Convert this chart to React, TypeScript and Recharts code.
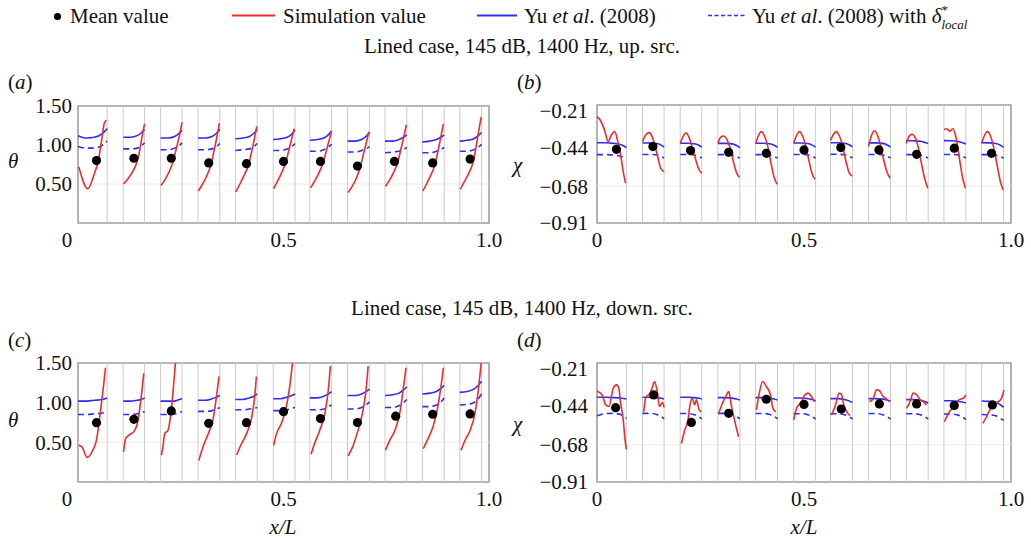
import { ComposedChart, Line, Scatter, XAxis, YAxis, ReferenceLine, ReferenceArea } from 'recharts';

type Pt = [number, number];

const FONT = "'Liberation Serif', 'Times New Roman', serif";
const RED = '#f22a2a';
const BLUE = '#2d2df5';
const INK = '#111';

// x/L axis
const xTicks = [0, 0.5, 1];
const thetaTicks = [0.5, 1.0, 1.5];
const chiTicks = [-0.91, -0.68, -0.44, -0.21];

// grey lines at the edges of each liner segment
const linerEdges = [
  0.071, 0.110, 0.162, 0.201, 0.253, 0.292, 0.345, 0.383, 0.436, 0.475, 0.528,
  0.564, 0.617, 0.656, 0.709, 0.747, 0.800, 0.838, 0.891, 0.929, 0.982,
];

// sample positions of the Yu et al. (2008) model curves, one row per segment
const modelX = [
  [0, 0.020, 0.040, 0.060, 0.071],
  [0.110, 0.128, 0.144, 0.155, 0.162],
  [0.201, 0.219, 0.235, 0.246, 0.253],
  [0.292, 0.310, 0.326, 0.337, 0.345],
  [0.383, 0.401, 0.417, 0.428, 0.436],
  [0.475, 0.493, 0.509, 0.520, 0.528],
  [0.564, 0.582, 0.598, 0.609, 0.617],
  [0.656, 0.674, 0.690, 0.701, 0.709],
  [0.747, 0.765, 0.781, 0.792, 0.800],
  [0.838, 0.856, 0.872, 0.883, 0.891],
  [0.929, 0.947, 0.963, 0.974, 0.982],
];

// ---- (a) theta, up. src.
const simA: Pt[][] = [
  [[0.002, 0.72], [0.024, 0.44], [0.039, 0.62], [0.049, 0.79], [0.054, 0.94], [0.059, 1.11], [0.063, 1.26], [0.069, 1.32]],
  [[0.111, 0.50], [0.122, 0.57], [0.132, 0.65], [0.142, 0.76], [0.149, 0.90], [0.155, 1.08], [0.162, 1.27]],
  [[0.202, 0.48], [0.212, 0.56], [0.222, 0.66], [0.232, 0.80], [0.239, 0.95], [0.246, 1.10], [0.253, 1.29]],
  [[0.293, 0.41], [0.303, 0.50], [0.313, 0.60], [0.323, 0.74], [0.330, 0.90], [0.337, 1.08], [0.344, 1.28]],
  [[0.384, 0.40], [0.394, 0.50], [0.404, 0.61], [0.414, 0.73], [0.421, 0.88], [0.428, 1.05], [0.435, 1.24]],
  [[0.476, 0.44], [0.485, 0.53], [0.495, 0.64], [0.505, 0.77], [0.512, 0.91], [0.519, 1.06], [0.526, 1.21]],
  [[0.566, 0.45], [0.576, 0.54], [0.586, 0.64], [0.596, 0.77], [0.603, 0.90], [0.610, 1.04], [0.617, 1.18]],
  [[0.657, 0.39], [0.667, 0.47], [0.677, 0.57], [0.687, 0.72], [0.694, 0.87], [0.701, 1.02], [0.708, 1.17]],
  [[0.748, 0.47], [0.758, 0.55], [0.768, 0.65], [0.778, 0.78], [0.785, 0.93], [0.792, 1.09], [0.799, 1.26]],
  [[0.839, 0.41], [0.848, 0.50], [0.858, 0.61], [0.868, 0.74], [0.875, 0.90], [0.882, 1.08], [0.889, 1.27]],
  [[0.930, 0.43], [0.939, 0.52], [0.949, 0.62], [0.959, 0.74], [0.966, 0.90], [0.973, 1.12], [0.981, 1.36]],
];
const yuA = [
  [1.12, 1.09, 1.10, 1.15, 1.21], [1.10, 1.10, 1.12, 1.16, 1.20], [1.09, 1.09, 1.11, 1.15, 1.19],
  [1.09, 1.09, 1.11, 1.15, 1.20], [1.08, 1.09, 1.11, 1.15, 1.20], [1.07, 1.08, 1.10, 1.14, 1.19],
  [1.06, 1.07, 1.09, 1.13, 1.18], [1.05, 1.05, 1.07, 1.11, 1.16], [1.05, 1.05, 1.07, 1.10, 1.13],
  [1.04, 1.05, 1.07, 1.10, 1.13], [1.05, 1.06, 1.08, 1.12, 1.16],
];
const yuLocalA = [
  [0.98, 0.96, 0.96, 1.00, 1.05], [0.95, 0.95, 0.96, 0.99, 1.03], [0.94, 0.94, 0.96, 0.99, 1.03],
  [0.94, 0.94, 0.95, 0.98, 1.02], [0.93, 0.94, 0.95, 0.98, 1.02], [0.93, 0.93, 0.95, 0.98, 1.02],
  [0.92, 0.92, 0.94, 0.97, 1.01], [0.91, 0.91, 0.93, 0.95, 0.98], [0.90, 0.91, 0.92, 0.94, 0.97],
  [0.90, 0.90, 0.92, 0.94, 0.97], [0.92, 0.92, 0.94, 0.97, 1.01],
];
const meanXA = [0.045, 0.136, 0.227, 0.318, 0.410, 0.500, 0.590, 0.680, 0.770, 0.863, 0.954];
const meanA = [0.80, 0.83, 0.83, 0.77, 0.76, 0.79, 0.79, 0.73, 0.79, 0.77, 0.82];

// ---- (b) chi, up. src.
const simB: Pt[][] = [
  [[0, -0.248], [0.008, -0.27], [0.018, -0.33], [0.027, -0.403], [0.035, -0.36], [0.043, -0.341], [0.050, -0.40], [0.059, -0.517], [0.064, -0.60], [0.069, -0.662]],
  [[0.110, -0.403], [0.118, -0.36], [0.126, -0.347], [0.133, -0.37], [0.140, -0.43], [0.147, -0.50], [0.154, -0.57], [0.162, -0.59]],
  [[0.201, -0.414], [0.208, -0.370], [0.215, -0.348], [0.222, -0.375], [0.230, -0.438], [0.238, -0.512], [0.246, -0.575], [0.253, -0.600]],
  [[0.292, -0.414], [0.299, -0.375], [0.306, -0.368], [0.313, -0.386], [0.321, -0.438], [0.329, -0.522], [0.337, -0.596], [0.344, -0.625]],
  [[0.383, -0.417], [0.390, -0.365], [0.397, -0.341], [0.404, -0.365], [0.412, -0.428], [0.420, -0.533], [0.428, -0.627], [0.435, -0.668]],
  [[0.475, -0.414], [0.482, -0.365], [0.489, -0.341], [0.496, -0.365], [0.504, -0.428], [0.512, -0.522], [0.520, -0.606], [0.527, -0.638]],
  [[0.564, -0.396], [0.571, -0.359], [0.578, -0.341], [0.585, -0.365], [0.593, -0.428], [0.601, -0.522], [0.609, -0.596], [0.616, -0.617]],
  [[0.656, -0.434], [0.663, -0.365], [0.670, -0.335], [0.677, -0.359], [0.685, -0.428], [0.693, -0.522], [0.701, -0.596], [0.708, -0.631]],
  [[0.747, -0.414], [0.754, -0.370], [0.761, -0.357], [0.768, -0.375], [0.776, -0.438], [0.784, -0.543], [0.792, -0.638], [0.799, -0.693]],
  [[0.838, -0.327], [0.845, -0.323], [0.852, -0.338], [0.859, -0.323], [0.867, -0.375], [0.875, -0.501], [0.883, -0.627], [0.890, -0.693]],
  [[0.929, -0.414], [0.936, -0.365], [0.943, -0.341], [0.950, -0.365], [0.958, -0.438], [0.966, -0.543], [0.974, -0.648], [0.981, -0.704]],
];
const yuB = [
  [-0.410, -0.410, -0.414, -0.424, -0.440], [-0.412, -0.412, -0.415, -0.425, -0.438], [-0.413, -0.413, -0.416, -0.426, -0.438],
  [-0.414, -0.414, -0.417, -0.427, -0.440], [-0.413, -0.413, -0.416, -0.426, -0.438], [-0.412, -0.412, -0.415, -0.425, -0.437],
  [-0.410, -0.410, -0.413, -0.423, -0.436], [-0.411, -0.411, -0.414, -0.424, -0.437], [-0.397, -0.398, -0.401, -0.408, -0.414],
  [-0.397, -0.398, -0.402, -0.410, -0.418], [-0.410, -0.411, -0.415, -0.425, -0.438],
];
const yuLocalB = [
  [-0.484, -0.484, -0.487, -0.496, -0.506], [-0.483, -0.483, -0.486, -0.495, -0.505], [-0.483, -0.483, -0.486, -0.495, -0.505],
  [-0.484, -0.484, -0.487, -0.496, -0.506], [-0.484, -0.484, -0.487, -0.496, -0.505], [-0.483, -0.483, -0.486, -0.495, -0.505],
  [-0.482, -0.482, -0.485, -0.494, -0.504], [-0.483, -0.483, -0.486, -0.495, -0.505], [-0.484, -0.484, -0.487, -0.496, -0.506],
  [-0.483, -0.483, -0.486, -0.495, -0.505], [-0.484, -0.484, -0.487, -0.496, -0.506],
];
const meanXB = [0.047, 0.135, 0.226, 0.318, 0.409, 0.500, 0.589, 0.681, 0.772, 0.863, 0.953];
const meanB = [-0.451, -0.434, -0.459, -0.470, -0.476, -0.455, -0.440, -0.455, -0.482, -0.444, -0.476];

// ---- (c) theta, down. src.
const simC: Pt[][] = [
  [[0.002, 0.465], [0.010, 0.44], [0.022, 0.31], [0.036, 0.40], [0.045, 0.53], [0.050, 0.70], [0.055, 0.91], [0.061, 1.16], [0.067, 1.44]],
  [[0.111, 0.38], [0.116, 0.55], [0.124, 0.59], [0.138, 0.65], [0.146, 0.78], [0.154, 1.08], [0.160, 1.37]],
  [[0.203, 0.34], [0.207, 0.46], [0.211, 0.61], [0.219, 0.65], [0.225, 0.82], [0.231, 1.12], [0.237, 1.50]],
  [[0.294, 0.27], [0.304, 0.44], [0.317, 0.61], [0.329, 0.80], [0.337, 1.08], [0.343, 1.33]],
  [[0.386, 0.34], [0.394, 0.44], [0.410, 0.61], [0.422, 0.80], [0.430, 1.08], [0.434, 1.33]],
  [[0.476, 0.46], [0.483, 0.61], [0.495, 0.74], [0.507, 0.95], [0.515, 1.20], [0.522, 1.50]],
  [[0.567, 0.35], [0.576, 0.49], [0.588, 0.65], [0.601, 0.87], [0.609, 1.16], [0.614, 1.46]],
  [[0.657, 0.33], [0.668, 0.44], [0.679, 0.61], [0.690, 0.82], [0.700, 1.12], [0.706, 1.46]],
  [[0.748, 0.40], [0.759, 0.53], [0.771, 0.65], [0.783, 0.87], [0.791, 1.16], [0.798, 1.44]],
  [[0.840, 0.42], [0.852, 0.55], [0.864, 0.70], [0.874, 0.91], [0.882, 1.16], [0.889, 1.44]],
  [[0.932, 0.40], [0.942, 0.53], [0.954, 0.65], [0.966, 0.87], [0.974, 1.16], [0.981, 1.50]],
];
const yuC = [
  [1.02, 1.02, 1.03, 1.04, 1.06], [1.02, 1.02, 1.03, 1.04, 1.06], [1.02, 1.02, 1.02, 1.04, 1.05],
  [1.03, 1.03, 1.05, 1.07, 1.09], [1.04, 1.04, 1.06, 1.08, 1.11], [1.05, 1.05, 1.07, 1.09, 1.11],
  [1.06, 1.06, 1.08, 1.11, 1.14], [1.09, 1.09, 1.11, 1.14, 1.17], [1.09, 1.10, 1.12, 1.16, 1.20],
  [1.11, 1.12, 1.14, 1.18, 1.22], [1.13, 1.14, 1.17, 1.22, 1.27],
];
const yuLocalC = [
  [0.85, 0.85, 0.86, 0.87, 0.89], [0.85, 0.85, 0.86, 0.87, 0.89], [0.85, 0.85, 0.86, 0.87, 0.89],
  [0.89, 0.89, 0.90, 0.92, 0.94], [0.91, 0.91, 0.92, 0.93, 0.94], [0.90, 0.90, 0.91, 0.93, 0.94],
  [0.91, 0.91, 0.92, 0.95, 0.97], [0.92, 0.92, 0.94, 0.97, 1.01], [0.94, 0.94, 0.96, 1.00, 1.04],
  [0.95, 0.95, 0.97, 1.01, 1.06], [0.97, 0.98, 1.00, 1.05, 1.11],
];
const meanXC = [0.045, 0.136, 0.227, 0.318, 0.410, 0.500, 0.590, 0.680, 0.773, 0.863, 0.954];
const meanC = [0.748, 0.79, 0.896, 0.74, 0.748, 0.887, 0.80, 0.75, 0.83, 0.854, 0.858];

// ---- (d) chi, down. src.
const simD: Pt[][] = [
  [[0, -0.348], [0.013, -0.375], [0.021, -0.434], [0.029, -0.443], [0.039, -0.333], [0.047, -0.310], [0.053, -0.333], [0.056, -0.403], [0.063, -0.517], [0.068, -0.653], [0.071, -0.709]],
  [[0.113, -0.476], [0.118, -0.386], [0.127, -0.365], [0.134, -0.323], [0.139, -0.289], [0.145, -0.344], [0.151, -0.444], [0.158, -0.417], [0.162, -0.449]],
  [[0.204, -0.672], [0.212, -0.589], [0.220, -0.527], [0.224, -0.444], [0.230, -0.393], [0.236, -0.434], [0.240, -0.403], [0.247, -0.465], [0.252, -0.476]],
  [[0.294, -0.486], [0.303, -0.424], [0.313, -0.372], [0.318, -0.352], [0.325, -0.444], [0.333, -0.538], [0.342, -0.631]],
  [[0.385, -0.465], [0.392, -0.361], [0.400, -0.289], [0.409, -0.320], [0.419, -0.372], [0.425, -0.455], [0.432, -0.476]],
  [[0.475, -0.527], [0.482, -0.455], [0.494, -0.414], [0.502, -0.372], [0.510, -0.361], [0.518, -0.382], [0.525, -0.414]],
  [[0.566, -0.497], [0.575, -0.444], [0.585, -0.361], [0.591, -0.372], [0.596, -0.434], [0.603, -0.476], [0.611, -0.501]],
  [[0.658, -0.414], [0.667, -0.396], [0.675, -0.341], [0.683, -0.349], [0.691, -0.382], [0.699, -0.396], [0.706, -0.414]],
  [[0.748, -0.455], [0.756, -0.414], [0.764, -0.361], [0.772, -0.370], [0.780, -0.401], [0.788, -0.414], [0.796, -0.434]],
  [[0.839, -0.538], [0.849, -0.486], [0.861, -0.444], [0.869, -0.414], [0.877, -0.399], [0.885, -0.393], [0.891, -0.372]],
  [[0.932, -0.548], [0.941, -0.507], [0.951, -0.455], [0.961, -0.424], [0.969, -0.414], [0.977, -0.393], [0.983, -0.341]],
];
const yuD = [
  [-0.387, -0.387, -0.389, -0.393, -0.397], [-0.387, -0.387, -0.389, -0.393, -0.397], [-0.387, -0.387, -0.389, -0.393, -0.397],
  [-0.389, -0.389, -0.392, -0.397, -0.403], [-0.389, -0.389, -0.392, -0.397, -0.403], [-0.391, -0.391, -0.395, -0.401, -0.410],
  [-0.395, -0.395, -0.400, -0.409, -0.420], [-0.395, -0.395, -0.398, -0.403, -0.410], [-0.401, -0.401, -0.405, -0.413, -0.422],
  [-0.408, -0.408, -0.411, -0.416, -0.422], [-0.410, -0.412, -0.418, -0.433, -0.449],
];
const yuLocalD = [
  [-0.501, -0.488, -0.486, -0.496, -0.517], [-0.486, -0.486, -0.493, -0.505, -0.520], [-0.487, -0.487, -0.494, -0.506, -0.521],
  [-0.486, -0.486, -0.493, -0.505, -0.520], [-0.487, -0.487, -0.493, -0.505, -0.520], [-0.488, -0.488, -0.494, -0.506, -0.521],
  [-0.488, -0.488, -0.495, -0.507, -0.522], [-0.487, -0.487, -0.494, -0.506, -0.521], [-0.488, -0.488, -0.495, -0.507, -0.522],
  [-0.490, -0.490, -0.497, -0.509, -0.524], [-0.493, -0.495, -0.501, -0.516, -0.530],
];
const meanXD = [0.045, 0.137, 0.228, 0.318, 0.409, 0.500, 0.590, 0.682, 0.772, 0.863, 0.955];
const meanD = [-0.451, -0.372, -0.542, -0.486, -0.399, -0.431, -0.459, -0.428, -0.428, -0.438, -0.434];

// segments -> one series with null breaks between segments
function toLine(segs: Pt[][]) {
  const out: { x: number; y: number | null }[] = [];
  segs.forEach((seg, i) => {
    if (i > 0) out.push({ x: seg[0][0], y: null });
    seg.forEach(([x, y]) => out.push({ x, y }));
  });
  return out;
}

function withModelX(ys: number[][]): Pt[][] {
  return modelX.map((xs, k) => xs.map((x, j) => [x, ys[k][j]] as Pt));
}

const fmtTheta = (v: number) => v.toFixed(2);
const fmtChi = (v: number) => '\u2212' + Math.abs(v).toFixed(2);

function XTick(props: any) {
  const { x, y, payload, shift } = props;
  const v = payload.value;
  const label = v === 0 ? '0' : v.toFixed(1);
  return (
    <text x={x + (v === 0 ? shift : 0)} y={y} dy="0.71em" textAnchor="middle" fontFamily={FONT} fontSize={21} fill={INK}>
      {label}
    </text>
  );
}

function YTick(props: any) {
  const { x, y, payload, fmt } = props;
  return (
    <text x={x} y={y} dy="0.355em" textAnchor="end" fontFamily={FONT} fontSize={21} fill={INK}>
      {fmt(payload.value)}
    </text>
  );
}

interface PanelProps {
  left: number;
  top: number;
  width: number;
  marginTop: number;
  marginRight: number;
  plotH: number;
  yWidth: number;
  xHeight: number;
  domain: [number, number];
  yTicks: number[];
  fmt: (v: number) => string;
  yGap: number;
  zeroShift: number;
  grid: number;
  sim: Pt[][];
  yu: number[][];
  yuLocal: number[][];
  meanX: number[];
  mean: number[];
}

function Panel(p: PanelProps) {
  const height = p.marginTop + p.plotH + p.xHeight;
  const means = p.meanX.map((x, i) => ({ x, y: p.mean[i] }));
  return (
    <div style={{ position: 'absolute', left: p.left, top: p.top }}>
      <ComposedChart width={p.width} height={height} margin={{ top: p.marginTop, right: p.marginRight, bottom: 0, left: 0 }}>
        <XAxis
          type="number"
          dataKey="x"
          domain={[0, 1]}
          ticks={xTicks}
          interval={0}
          axisLine={false}
          tickLine={false}
          tickSize={0}
          tickMargin={9}
          height={p.xHeight}
          tick={(t: any) => <XTick {...t} shift={p.zeroShift} />}
        />
        <YAxis
          type="number"
          domain={p.domain}
          allowDataOverflow
          ticks={p.yTicks}
          interval={0}
          axisLine={false}
          tickLine={false}
          tickSize={0}
          tickMargin={p.yGap}
          width={p.yWidth}
          tick={(t: any) => <YTick {...t} fmt={p.fmt} />}
        />
        <ReferenceLine y={p.grid} stroke="#ececec" strokeWidth={1} />
        {linerEdges.map((x) => (
          <ReferenceLine key={x} x={x} stroke="#cccccc" strokeWidth={1} />
        ))}
        <ReferenceArea x1={0} x2={1} y1={p.domain[0]} y2={p.domain[1]} fill="none" fillOpacity={0} stroke="#a0a0a0" strokeWidth={1.6} />
        <Line data={toLine(withModelX(p.yu))} dataKey="y" type="monotone" stroke={BLUE} strokeWidth={1.6} dot={false} isAnimationActive={false} />
        <Line
          data={toLine(withModelX(p.yuLocal))}
          dataKey="y"
          type="monotone"
          stroke={BLUE}
          strokeWidth={1.6}
          strokeDasharray="6 4"
          dot={false}
          isAnimationActive={false}
        />
        <Line data={toLine(p.sim)} dataKey="y" type="monotone" stroke={RED} strokeWidth={1.6} dot={false} isAnimationActive={false} />
        <Scatter
          data={means}
          dataKey="y"
          isAnimationActive={false}
          shape={(s: any) => <circle cx={s.cx} cy={s.cy} r={4.6} fill="#000" />}
        />
      </ComposedChart>
    </div>
  );
}

function Overlay() {
  const it = { fontStyle: 'italic' as const };
  return (
    <svg width={1031} height={542} style={{ position: 'absolute', left: 0, top: 0 }} fontFamily={FONT} fontSize={21} fill={INK}>
      {/* legend */}
      <circle cx={57.5} cy={16.5} r={3.6} fill="#000" />
      <text x={70} y={23}>Mean value</text>
      <line x1={232} x2={275} y1={15.5} y2={15.5} stroke={RED} strokeWidth={2} />
      <text x={283} y={23}>Simulation value</text>
      <line x1={477} x2={517} y1={15.5} y2={15.5} stroke={BLUE} strokeWidth={2} />
      <text x={524} y={23}>
        Yu <tspan style={it}>et al</tspan>. (2008)
      </text>
      <line x1={708} x2={747} y1={15.5} y2={15.5} stroke={BLUE} strokeWidth={1.6} strokeDasharray="4 2.5" />
      <text x={752} y={23}>
        Yu <tspan style={it}>et al</tspan>. (2008) with <tspan style={it}>δ</tspan>
        <tspan fontSize={13} dy={-9}>*</tspan>
        <tspan fontSize={13} style={it} dx={-6.5} dy={14.5}>local</tspan>
      </text>

      {/* row titles */}
      <text x={522} y={53} textAnchor="middle">Lined case, 145 dB, 1400 Hz, up. src.</text>
      <text x={522} y={315} textAnchor="middle">Lined case, 145 dB, 1400 Hz, down. src.</text>

      {/* panel labels */}
      <text x={8} y={89}>(<tspan style={it}>a</tspan>)</text>
      <text x={517} y={89}>(<tspan style={it}>b</tspan>)</text>
      <text x={8} y={347}>(<tspan style={it}>c</tspan>)</text>
      <text x={517} y={347}>(<tspan style={it}>d</tspan>)</text>

      {/* axis titles */}
      <text x={8} y={168} style={it}>θ</text>
      <text x={8} y={427} style={it}>θ</text>
      <text x={513} y={172} style={it}>χ</text>
      <text x={513} y={431} style={it}>χ</text>
      <text x={283} y={534} textAnchor="middle" style={it}>x/L</text>
      <text x={804} y={534} textAnchor="middle" style={it}>x/L</text>
    </svg>
  );
}

export default function App() {
  return (
    <div style={{ position: 'absolute', left: 0, top: 0, width: 1031, height: 542, background: '#fff', overflow: 'hidden' }}>
      <Overlay />
      <Panel
        left={0} top={86} width={515} marginTop={20} marginRight={26} plotH={117} yWidth={78} xHeight={43}
        domain={[0, 1.5]} yTicks={thetaTicks} fmt={fmtTheta} yGap={6} zeroShift={-11} grid={0.5}
        sim={simA} yu={yuA} yuLocal={yuLocalA} meanX={meanXA} mean={meanA}
      />
      <Panel
        left={520} top={86} width={511} marginTop={19} marginRight={20} plotH={118} yWidth={77} xHeight={44}
        domain={[-0.91, -0.175]} yTicks={chiTicks} fmt={fmtChi} yGap={9} zeroShift={0} grid={-0.68}
        sim={simB} yu={yuB} yuLocal={yuLocalB} meanX={meanXB} mean={meanB}
      />
      <Panel
        left={0} top={343} width={515} marginTop={20} marginRight={26} plotH={119} yWidth={78} xHeight={41}
        domain={[0, 1.5]} yTicks={thetaTicks} fmt={fmtTheta} yGap={6} zeroShift={-11} grid={0.5}
        sim={simC} yu={yuC} yuLocal={yuLocalC} meanX={meanXC} mean={meanC}
      />
      <Panel
        left={520} top={343} width={511} marginTop={20} marginRight={20} plotH={119} yWidth={77} xHeight={41}
        domain={[-0.91, -0.175]} yTicks={chiTicks} fmt={fmtChi} yGap={9} zeroShift={0} grid={-0.68}
        sim={simD} yu={yuD} yuLocal={yuLocalD} meanX={meanXD} mean={meanD}
      />
    </div>
  );
}
